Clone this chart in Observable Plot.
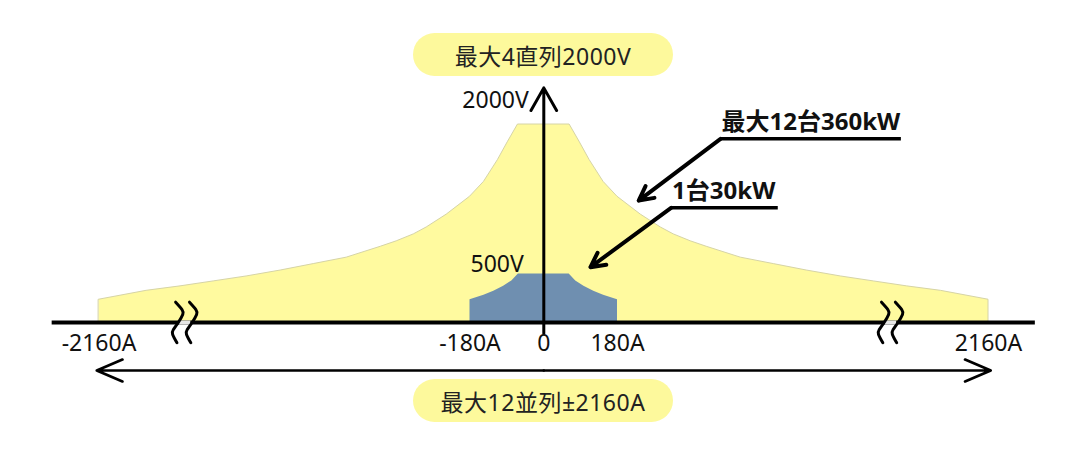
<!DOCTYPE html>
<html><head><meta charset="utf-8">
<script src="https://cdn.jsdelivr.net/npm/d3@7"></script>
<script src="https://cdn.jsdelivr.net/npm/@observablehq/plot@0.6"></script>
<style>
html,body{margin:0;padding:0;background:#fff;}
#wrap{position:relative;width:1080px;height:452px;overflow:hidden;font-family:"Noto Sans","Noto Sans CJK JP",sans-serif;}
.pill{position:absolute;left:413px;width:260px;height:43px;border-radius:22px;background:#fdf99c;display:flex;align-items:center;justify-content:center;font-size:23px;letter-spacing:0.5px;color:#222;font-family:"Noto Sans","Noto Sans CJK JP",sans-serif;}
</style></head><body><div id="wrap"></div>
<script>
// ---- data (current in A, voltage in V) ----
const halfAmps360 = [0, 63, 88, 112, 146, 180, 304, 411, 480, 571, 656, 838, 1014, 1190, 1372, 1548, 1725, 1906, 2160];
const volts360    = [2000, 2000, 1820, 1640, 1420, 1270, 1090, 960, 890, 820, 765, 655, 590, 525, 465, 415, 365, 320, 230];
const halfAmps30  = [0, 62, 78, 98, 122, 146, 180];
const volts30     = [490, 490, 420, 365, 315, 275, 230];

const tickAmps   = [-2160, -180, 0, 180, 2160];
const tickLabels = ["-2160A", "-180A", "0", "180A", "2160A"];
const voltTicks  = [2000, 500];
const voltLabels = ["2000V", "500V"];
const pillTexts  = ["最大4直列2000V", "最大12並列±2160A"];
const noteLabels = ["最大12台360kW", "1台30kW"];
const noteFromAmps = [730, 466];
const noteToAmps   = [1695, 1038];
const noteVolts    = [1855, 1158];
const noteTipAmps  = [293, 114];
const noteTipVolts = [1232, 559];
const breakAmps  = [-1700, 1640];
const axisAmps   = [-2410, 2410];
const axisVolts  = [-110, 2370];
const spanAmps   = 2172;
const spanVolt   = -485;
// axis-break "S" symbol (offsets in A and V from the break point), drawn twice side by side
const breakPairOffsets = [-37, 37];
const breakSymbolA = [-14, 20, 24, 0, -26, -30, -7];
const breakSymbolV = [205, 131, 81, 0, -71, -121, -205];

// mirror the half envelopes
function mirror(amps, volts) {
  const out = [];
  for (let i = amps.length - 1; i > 0; i--) out.push({a: -amps[i], v: volts[i]});
  for (let i = 0; i < amps.length; i++) out.push({a: amps[i], v: volts[i]});
  return out;
}
const env360 = mirror(halfAmps360, volts360);
const env30 = mirror(halfAmps30, volts30);
const ticks = tickAmps.map((a, i) => ({a, t: tickLabels[i]}));
const notes = noteLabels.map((t, i) => ({t, a1: noteFromAmps[i], a2: noteToAmps[i], v: noteVolts[i], ta: noteTipAmps[i], tv: noteTipVolts[i]}));
const squiggles = [];
breakAmps.forEach((b, bi) => breakPairOffsets.forEach((o, oi) => breakSymbolA.forEach((da, k) =>
  squiggles.push({a: b + o + da, v: breakSymbolV[k], z: bi + "-" + oi}))));
const font = "Noto Sans, Noto Sans CJK JP, sans-serif";

const chart = Plot.plot({
  width: 1080, height: 452,
  margin: 0,
  x: {type: "linear", domain: [-2160, -180, 0, 180, 2160], range: [98.5, 469.5, 543.3, 617, 988], axis: null},
  y: {type: "linear", domain: [0, 2000], range: [322, 124], axis: null},
  style: {fontFamily: font, background: "white"},
  marks: [
    Plot.areaY(env360, {x: "a", y: "v", fill: "#fffa9f", stroke: "#d6d4a6", strokeWidth: 1, curve: "linear"}),
    Plot.areaY(env30, {x: "a", y: "v", fill: "#6f8fb0", curve: "linear"}),
    // horizontal axis
    Plot.ruleY([{a1: axisAmps[0], a2: axisAmps[1], v: 0}], {y: "v", x1: "a1", x2: "a2", stroke: "black", strokeWidth: 4}),
    // breaks
    Plot.ruleY(breakAmps, {y: () => 0, x1: d => d - 30, x2: d => d + 30, stroke: "#e6e6e6", strokeWidth: 4}),
    Plot.line(squiggles, {x: "a", y: "v", z: "z", stroke: "black", strokeWidth: 3, curve: "natural", strokeLinecap: "round"}),
    // vertical axis
    Plot.arrow([{a: 0, v1: axisVolts[0], v2: axisVolts[1]}], {x1: "a", x2: "a", y1: "v1", y2: "v2", stroke: "black", strokeWidth: 3, headLength: 13, headAngle: 59}),
    // span arrows
    Plot.arrow([{a1: 0, a2: -spanAmps, v: spanVolt}, {a1: 0, a2: spanAmps, v: spanVolt}], {x1: "a1", x2: "a2", y1: "v", y2: "v", stroke: "black", strokeWidth: 2.7, headLength: 15.5, headAngle: 46}),
    // tick labels
    Plot.text(ticks, {x: "a", y: () => 0, text: "t", dy: 21, fontSize: 23, fill: "#111"}),
    Plot.text([{v: voltTicks[0], t: voltLabels[0]}], {x: () => 0, y: "v", text: "t", dx: -15, dy: -24, textAnchor: "end", fontSize: 23, fill: "#111"}),
    Plot.text([{v: voltTicks[1], t: voltLabels[1]}], {x: () => 0, y: "v", text: "t", dx: -20, dy: -8, textAnchor: "end", fontSize: 23, fill: "#111"}),
    // notes
    Plot.ruleY(notes, {y: "v", x1: "a1", x2: "a2", stroke: "black", strokeWidth: 3.5}),
    Plot.arrow(notes, {x1: "a1", y1: "v", x2: "ta", y2: "tv", stroke: "black", strokeWidth: 4, headLength: 6, headAngle: 55}),
    Plot.text(notes, {x: "a1", y: "v", text: "t", textAnchor: "start", lineAnchor: "bottom", dx: 1, dy: -9, fontSize: 24, fontWeight: "bold", fill: "#111"})
  ]
});
const wrap = document.getElementById("wrap");
wrap.appendChild(chart);
const pillTops = [33, 379];
pillTexts.forEach((t, i) => {
  const d = document.createElement("div");
  d.className = "pill";
  d.style.top = pillTops[i] + "px";
  d.textContent = t;
  wrap.appendChild(d);
});
</script></body></html>
